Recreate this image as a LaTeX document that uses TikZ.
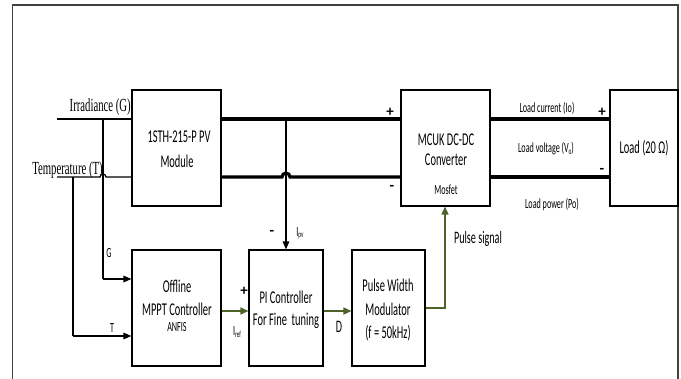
\documentclass[tikz,border=0pt]{standalone}
\usepackage{fontspec}
\setmainfont{Carlito}[FakeStretch=0.58]
\newfontfamily\serifc{Liberation Serif}[FakeStretch=0.58]
\newfontfamily\signfont{Carlito}
\usetikzlibrary{arrows.meta}
\definecolor{olive}{RGB}{79,98,40}
\definecolor{framegray}{RGB}{64,64,64}
\newcommand{\mysub}[1]{{\fontsize{9}{9}\selectfont\raisebox{-1.5pt}{#1}}}
\tikzset{
  blk/.style={draw=black, line width=1.1pt, minimum height=116pt, inner sep=0pt},
  thick line/.style={line width=3.2pt},
  thin line/.style={line width=1.2pt},
  blackarrow/.style={line width=1.2pt, -{Triangle[length=8pt,width=6.5pt]}},
  greenarrow/.style={draw=olive, line width=1.5pt, -{Triangle[length=8pt,width=7pt,fill=olive]}},
  btxt/.style={font=\fontsize{18}{20}\selectfont, inner sep=0pt},
  stxt/.style={font=\fontsize{14}{16}\selectfont, inner sep=0pt},
  mtxt/.style={font=\fontsize{17.5}{18}\selectfont, inner sep=0pt},
  pmtxt/.style={font=\signfont\bfseries\fontsize{15}{15}\selectfont, inner sep=0pt},
  sertxt/.style={font=\serifc\fontsize{18.5}{20}\selectfont, inner sep=0pt},
}
\begin{document}
\begin{tikzpicture}[x=1pt,y=-1pt]
\useasboundingbox (0,0) rectangle (681,379);
% frame
\draw[framegray, line width=1.5pt] (12.5,379) -- (12.5,5) -- (678,5) -- (678,379);
% blocks
\node[blk, minimum width=89pt] (pv) at (176.5,148) {};
\node[blk, minimum width=89pt] (cuk) at (445.5,148) {};
\node[blk, minimum width=68pt] (load) at (644,148) {};
\node[blk, minimum width=89pt] (mppt) at (176.5,308) {};
\node[blk, minimum width=74pt] (pi) at (286,308) {};
\node[blk, minimum width=73pt] (pwm) at (388.5,308) {};
% block texts
\node[btxt] (pv1) at (179,137) {1STH-215-P PV};
\node[btxt] (pv2) at (177,161) {Module};
\node[btxt] (cuk1) at (446,140) {MCUK DC-DC};
\node[btxt] (cuk2) at (446,160) {Converter};
\node[stxt] (cuk3) at (446,190) {Mosfet};
\node[btxt] (load1) at (644,148) {Load (20 Ω)};
\node[btxt] (mp1) at (177,286) {Offline};
\node[btxt] (mp2) at (177,309) {MPPT Controller};
\node[stxt] (mp3) at (177,327) {ANFIS};
\node[btxt] (pi1) at (286,297) {PI Controller};
\node[btxt] (pi2) at (286,321) {For Fine\ \ tuning};
\node[btxt] (pw1) at (388,285) {Pulse Width};
\node[btxt] (pw2) at (388,309) {Modulator};
\node[btxt] (pw3) at (388,333) {(f = 50kHz)};
% inputs
\coordinate (gin) at (57,119);
\coordinate (tin) at (57,177);
\coordinate (gtap) at (103,119);
\coordinate (ttap) at (73,177);
\coordinate (gturn) at (103,279);
\coordinate (tturn) at (73,336);
\draw[thin line] (gin) -- (pv.west |- gin);
\draw[thin line] (tin) -- (100,177) arc[start angle=180, end angle=360, radius=3] -- (pv.west |- tin);
\draw[thin line] (gtap) -- (gturn);
\draw[blackarrow] (gturn) -- (mppt.west |- gturn);
\draw[thin line] (ttap) -- (tturn);
\draw[blackarrow] (tturn) -- (mppt.west |- tturn);
\node[sertxt, anchor=east] (irr) at (131,107) {Irradiance (G)};
\node[sertxt] (temp) at (67.5,170) {Temperature (T)};
\node[stxt] (glab) at (109,253) {G};
\node[stxt] (tlab) at (112,328) {T};
% PV to converter
\coordinate (ptop) at (286,119);
\draw[thick line] (pv.east |- ptop) -- (cuk.west |- ptop);
\draw[thick line] (pv.east |- tin) -- (282,177) arc[start angle=180, end angle=360, radius=4] -- (cuk.west |- tin);
\draw[blackarrow] (ptop) -- (pi.north);
\node[pmtxt] (pplus) at (390,112) {+};
\node[pmtxt] (pminus) at (392,188) {-};
\node[pmtxt] (ipvminus) at (272,233) {-};
\node[stxt] (ipv) at (300,233) {I\mysub{pv}};
% converter to load
\draw[thick line] (cuk.east |- ptop) -- (load.west |- ptop);
\draw[thick line] (cuk.east |- tin) -- (load.west |- tin);
\node[stxt] (lc) at (547,108) {Load current (Io)};
\node[stxt] (lv) at (546,149) {Load voltage (V\mysub{o})};
\node[stxt] (lp) at (552,205) {Load power (Po)};
\node[pmtxt] (lplus) at (602,112) {+};
\node[pmtxt] (lminus) at (602,171) {-};
% control chain
\coordinate (iref) at (221,311);
\draw[greenarrow] (mppt.east |- iref) -- (pi.west |- iref);
\node[pmtxt] (irefplus) at (244,291) {+};
\node[stxt] (ireflab) at (237,332) {I\mysub{ref}};
\draw[greenarrow] (pi.east |- iref) -- (pwm.west |- iref);
\node[mtxt] (dlab) at (339,327) {D};
\coordinate (pscorner) at (445,308);
\draw[greenarrow] (pwm.east |- pscorner) -- (pscorner) -- (cuk.south -| pscorner);
\node[mtxt] (pslab) at (478,239) {Pulse signal};
\end{tikzpicture}
\end{document}
